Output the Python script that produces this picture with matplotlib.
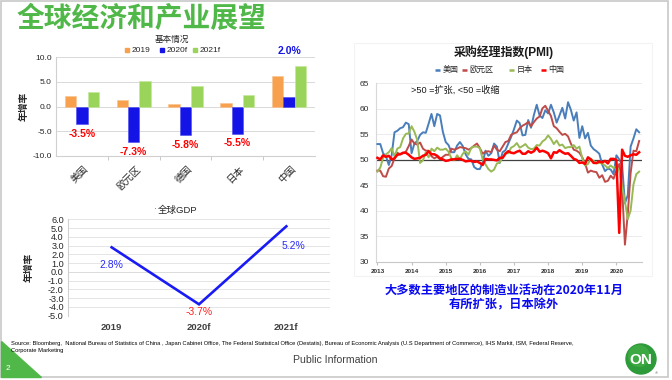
import matplotlib
matplotlib.use('Agg')
import matplotlib.pyplot as plt
import numpy as np
from matplotlib.patches import Rectangle, Polygon, Circle

plt.rcParams['font.family'] = ['Liberation Sans', 'Noto Sans CJK SC', 'DejaVu Sans']

# ---------------- data ----------------
regions = ['美国', '欧元区', '德国', '日本', '中国']
bar_series = ['2019', '2020f', '2021f']
gdp_2019 = [2.2, 1.3, 0.6, 0.7, 6.1]
gdp_2020f = [-3.5, -7.3, -5.8, -5.5, 2.0]
gdp_2021f = [3.0, 5.2, 4.2, 2.3, 8.2]

world_years = ['2019', '2020f', '2021f']
world_gdp = [2.8, -3.7, 5.2]

pmi_years = ['2013', '2014', '2015', '2016', '2017', '2018', '2019', '2020']
pmi_names = ['美国', '欧元区', '日本', '中国']
pmi_us = [53.1, 53.1, 51.3, 50.7, 49.0, 50.9, 55.4, 55.7, 56.2, 56.4, 57.3, 57.0,
          51.3, 53.2, 53.7, 54.9, 55.4, 55.3, 57.1, 59.0, 56.6, 59.0, 58.7, 55.5,
          53.5, 52.9, 51.5, 51.5, 52.8, 53.5, 52.7, 51.1, 50.2, 50.1, 48.6, 48.2,
          48.2, 49.5, 51.8, 50.8, 51.3, 53.2, 52.6, 49.4, 51.5, 51.9, 53.2, 54.5,
          56.0, 57.7, 57.2, 54.8, 54.9, 57.8, 56.3, 58.8, 60.8, 58.7, 58.2, 59.7,
          59.1, 60.8, 59.3, 57.3, 58.7, 60.2, 58.1, 61.3, 59.8, 57.7, 59.3, 54.3,
          56.6, 54.2, 55.3, 52.8, 52.1, 51.7, 51.2, 49.1, 47.8, 48.3, 48.1, 47.2,
          50.9, 50.1, 49.1, 41.5, 43.1, 52.6, 54.2, 56.0, 55.4]
pmi_ez = [47.9, 47.9, 46.8, 46.7, 48.3, 48.8, 50.3, 51.4, 51.1, 51.3, 51.6, 52.7,
          54.0, 53.2, 53.0, 53.4, 52.2, 51.8, 51.8, 50.7, 50.3, 50.6, 50.1, 50.6,
          51.0, 51.0, 52.2, 52.0, 52.2, 52.5, 52.4, 52.3, 52.0, 52.3, 52.8, 53.2,
          52.3, 51.2, 51.6, 51.7, 51.5, 52.8, 52.0, 51.7, 52.6, 53.5, 53.7, 54.9,
          55.2, 55.4, 56.2, 56.7, 57.0, 57.4, 56.6, 57.4, 58.1, 58.5, 60.1, 60.6,
          59.6, 58.6, 56.6, 56.2, 55.5, 54.9, 55.1, 54.6, 53.2, 52.0, 51.8, 51.4,
          50.5, 49.3, 47.5, 47.9, 47.7, 47.6, 46.5, 47.0, 45.7, 45.9, 46.9, 46.3,
          47.9, 49.2, 44.5, 33.4, 39.4, 47.4, 51.8, 51.7, 53.7]
pmi_jp = [47.7, 48.5, 50.4, 51.1, 51.5, 52.3, 50.7, 52.2, 52.5, 54.2, 55.1, 55.2,
          56.6, 55.5, 53.9, 49.4, 49.9, 51.5, 50.5, 52.2, 51.7, 52.4, 52.0, 52.0,
          52.2, 51.6, 50.3, 49.9, 50.9, 50.1, 51.2, 51.7, 51.0, 52.4, 52.6, 52.6,
          52.3, 50.1, 49.1, 48.2, 47.7, 48.1, 49.3, 49.5, 50.4, 51.4, 51.3, 52.4,
          52.7, 53.3, 52.4, 52.7, 53.1, 52.4, 52.1, 52.2, 52.9, 52.8, 53.6, 54.0,
          54.8, 54.1, 53.1, 53.8, 52.8, 53.0, 52.3, 52.5, 52.5, 52.9, 52.2, 52.6,
          50.3, 48.9, 49.2, 50.2, 49.8, 49.3, 49.4, 49.3, 48.9, 48.4, 48.9, 48.4,
          48.8, 47.8, 44.8, 41.9, 38.4, 40.1, 45.2, 47.2, 47.7]
pmi_cn = [50.4, 50.1, 50.9, 50.6, 50.8, 50.1, 50.3, 51.0, 51.1, 51.4, 51.4, 51.0,
          50.5, 50.2, 50.3, 50.4, 50.8, 51.0, 51.7, 51.1, 51.1, 50.8, 50.3, 50.1,
          49.8, 49.9, 50.1, 50.1, 50.2, 50.2, 50.0, 49.7, 49.8, 49.8, 49.6, 49.7,
          49.4, 49.0, 50.2, 50.1, 50.1, 50.0, 49.9, 50.4, 50.4, 51.2, 51.7, 51.4,
          51.3, 51.6, 51.8, 51.2, 51.2, 51.7, 51.4, 51.7, 52.4, 51.6, 51.8, 51.6,
          51.3, 50.3, 51.5, 51.4, 51.9, 51.5, 51.2, 51.3, 50.8, 50.2, 50.0, 49.4,
          49.5, 49.2, 50.5, 50.1, 49.4, 49.4, 49.7, 49.5, 49.8, 49.3, 50.2, 50.2,
          50.0, 35.7, 52.0, 50.8, 50.6, 50.9, 51.1, 51.0, 51.5]

# ---------------- figure ----------------
W, H = 672, 380
fig = plt.figure(figsize=(6.72, 3.8), dpi=100)
fig.patch.set_facecolor('white')

# overlay axes in pixel coordinates (for slide decoration)
ov = fig.add_axes([0, 0, 1, 1], zorder=0)
ov.set_xlim(0, W)
ov.set_ylim(H, 0)
ov.axis('off')
ov.patch.set_alpha(0)


def ax_px(x0, y0, x1, y1):
    a = fig.add_axes([x0 / W, 1 - y1 / H, (x1 - x0) / W, (y1 - y0) / H], zorder=2)
    a.patch.set_alpha(0)
    return a


GREEN = '#50B848'
TICKC = '#262626'

# slide border
ov.add_patch(Rectangle((1, 1), 667, 376, fill=False, edgecolor='#C8C8C8', lw=1.2))

# main title
ov.text(17, 18.5, '全球经济和产业展望', fontsize=20, fontweight='bold', color=GREEN,
        family=['Noto Sans CJK SC'], ha='left', va='center')

# ---------------- bar chart ----------------
ax1 = ax_px(56, 57.3, 315, 155.7)
x = np.arange(len(regions))
w = 0.22
c_or, c_bl, c_gr = '#F7A04E', '#1414E6', '#9BD45A'
ax1.bar(x - w, gdp_2019, w, color=c_or, edgecolor='#F9C38E', lw=0.4, zorder=3)
ax1.bar(x, gdp_2020f, w, color=c_bl, edgecolor='#4A4AF0', lw=0.4, zorder=3)
ax1.bar(x + w, gdp_2021f, w, color=c_gr, edgecolor='#C4E89A', lw=0.4, zorder=3)
ax1.set_xlim(-0.5, len(regions) - 0.5)
ax1.set_ylim(-10, 10)
yt = [-10, -5, 0, 5, 10]
ax1.set_yticks(yt)
ax1.set_yticklabels([f'{v:.1f}' for v in yt], fontsize=6, color=TICKC)
ax1.yaxis.grid(True, color='#D9D9D9', lw=0.7, zorder=0)
ax1.tick_params(axis='y', length=0, pad=3)
for s in ['top', 'right']:
    ax1.spines[s].set_visible(False)
ax1.spines['left'].set_color('#D0D0D0')
ax1.spines['bottom'].set_color('#D0D0D0')
ax1.set_xticks(x)
ax1.set_xticklabels([])
ax1.tick_params(axis='x', length=0)
ax1.set_xticks(np.arange(len(regions) - 1) + 0.5, minor=True)
ax1.tick_params(axis='x', which='minor', length=3, color='#C0C0C0')
for i, r in enumerate(regions):
    ax1.annotate(r, xy=(i, 0), xycoords=ax1.get_xaxis_transform(), xytext=(1, -6),
                 textcoords='offset points', rotation=45, ha='right', va='top',
                 rotation_mode='anchor', fontsize=7, color=TICKC)
for i, v in enumerate(gdp_2020f):
    if v < 0:
        ax1.text(i, v - 2.0, f'{v:.1f}%', color='#FF0000', fontsize=7.5, fontweight='bold',
                 ha='center', va='center', zorder=4)
    else:
        ax1.text(i, 11.3, f'{v:.1f}%', color='#1414E6', fontsize=7.5, fontweight='bold',
                 ha='center', va='center', clip_on=False, zorder=4)
ax1.set_ylabel('年增率', fontsize=7, fontweight='bold', color=TICKC)
ax1.yaxis.set_label_coords(-0.104, 0.5)

ov.text(172, 39, '基本情况', fontsize=6.2, ha='center', va='center', color=TICKC)
leg_items = [(125, c_or, bar_series[0]), (160, c_bl, bar_series[1]), (193, c_gr, bar_series[2])]
for lx, col, lab in leg_items:
    ov.add_patch(Rectangle((lx, 48), 4, 4, color=col))
    ov.text(lx + 6.5, 50.2, lab, fontsize=6, va='center', ha='left', color=TICKC)

# ---------------- world GDP line ----------------
ax2 = ax_px(68, 219.3, 330, 315.7)
xi = np.arange(len(world_years))
ax2.plot(xi, world_gdp, color='#1A1AF5', lw=1.9, zorder=3, solid_joinstyle='miter')
ax2.set_xlim(-0.5, len(world_years) - 0.5)
ax2.set_ylim(-5, 6)
yt2 = list(range(-5, 7))
ax2.set_yticks(yt2)
ax2.set_yticklabels([f'{v:.1f}' for v in yt2], fontsize=6.6, color=TICKC)
ax2.yaxis.grid(True, color='#E0E0E0', lw=0.6, zorder=0)
ax2.set_xticks(xi)
ax2.set_xticklabels(world_years, fontsize=6.8, color='#404040', fontweight='bold')
ax2.tick_params(axis='both', length=0)
ax2.tick_params(axis='x', pad=5)
ax2.tick_params(axis='y', pad=3)
for s in ['top', 'right', 'bottom']:
    ax2.spines[s].set_visible(False)
ax2.spines['left'].set_color('#D0D0D0')
ax2.axhline(0, color='#C8C8C8', lw=0.7, zorder=1)
gdp_lbl_off = [(0.0, -2.0), (0.0, -0.9), (0.08, -2.3)]
for i, v in enumerate(world_gdp):
    dx, dy = gdp_lbl_off[i]
    col = '#FF2020' if v < 0 else '#2A2AF5'
    ax2.text(i + dx, v + dy, f'{v:.1f}%', color=col, fontsize=7.5, ha='center', va='center')
ax2.set_ylabel('年增率', fontsize=7, fontweight='bold', color=TICKC)
ax2.yaxis.set_label_coords(-0.13, 0.5)
ov.text(155, 210, '·', fontsize=6, ha='center', va='center', color='#4040E0')
ov.text(178, 210.5, '全球GDP', fontsize=6.8, ha='center', va='center', color=TICKC)

# ---------------- PMI chart ----------------
ov.add_patch(Rectangle((354, 43), 298, 233, fill=False, edgecolor='#F3F3F3', lw=0.8))
ax3 = ax_px(376, 83.3, 642, 262)
m = np.arange(len(pmi_us))
pmi_cols = ['#4A7EBB', '#BE4B48', '#98B954', '#FF0000']
pmi_lw = [1.4, 1.4, 1.4, 1.8]
ax3.axhline(50, color='#404040', lw=0.9, zorder=2)
for vals, col, lw in zip([pmi_us, pmi_ez, pmi_jp, pmi_cn], pmi_cols, pmi_lw):
    ax3.plot(m, vals, color=col, lw=lw, zorder=3)
ax3.set_xlim(-0.5, 93)
ax3.set_ylim(30, 65)
ax3.set_yticks(range(30, 66, 5))
ax3.set_yticklabels([str(v) for v in range(30, 66, 5)], fontsize=6, color='#303030')
ax3.yaxis.grid(True, color='#E8E8E8', lw=0.6, zorder=0)
ax3.set_xticks(np.arange(len(pmi_years)) * 12)
ax3.set_xticklabels(pmi_years, fontsize=4.6, fontweight='bold', color='#303030')
ax3.tick_params(axis='y', length=0, pad=5)
ax3.tick_params(axis='x', length=2, color='#C0C0C0', pad=3)
for s in ['top', 'right']:
    ax3.spines[s].set_visible(False)
ax3.spines['left'].set_color('#D8D8D8')
ax3.spines['bottom'].set_color('#C8C8C8')

ov.text(504, 52.5, '采购经理指数(PMI)', fontsize=8.6, fontweight='bold', ha='center',
        va='center', color='#1A1A1A')
pmi_leg_x = [435, 462, 509, 541]
for lx, col, lab in zip(pmi_leg_x, pmi_cols, pmi_names):
    ov.plot([lx, lx + 5], [69.5, 69.5], color=col, lw=1.8, solid_capstyle='butt')
    ov.text(lx + 7.5, 69.8, lab, fontsize=5.8, ha='left', va='center', color='#262626')
ov.text(411, 90, '>50 =扩张, <50 =收缩', fontsize=6.6, ha='left', va='center', color='#1A1A1A')

ov.text(504, 290, '大多数主要地区的制造业活动在2020年11月', fontsize=8.8, fontweight='bold',
        color='#0A0AF0', ha='center', va='center', family=['Noto Sans CJK SC'])
ov.text(504, 305, '有所扩张，日本除外', fontsize=8.8, fontweight='bold',
        color='#0A0AF0', ha='center', va='center', family=['Noto Sans CJK SC'])

# ---------------- footer ----------------
ov.add_patch(Polygon([(1, 341), (1, 377), (41, 377)], closed=True, color=GREEN))
ov.text(8, 369, '2', fontsize=6, color='white', ha='center', va='center')
src1 = ov.text(11, 343.5, 'Source: Bloomberg,  National Bureau of Statistics of China , Japan Cabinet Office, '
               'The Federal Statistical Office (Destatis), Bureau of Economic Analysis (U.S Department of Commerce), '
               'IHS Markit, ISM, Federal Reserve,', fontsize=4.2, ha='left', va='center', color='black')
src2 = ov.text(11, 350.5, 'Corporate Marketing', fontsize=4.2, ha='left', va='center', color='black')
fig.canvas.draw()
bb = src1.get_window_extent()
scale = 572.0 / bb.width
src1.set_fontsize(4.2 * scale)
src2.set_fontsize(4.2 * scale)

ov.text(335, 360, 'Public Information', fontsize=7.6, ha='center', va='center', color='#404040')

ov.add_patch(Circle((641, 359), 15, color='#2E9B3A', zorder=3))
ov.add_patch(Circle((639, 356), 11, color='#4CB84A', alpha=0.5, zorder=3, lw=0))
ov.text(641, 359.5, 'ON', fontsize=11, fontweight='bold', color='white', ha='center',
        va='center', zorder=4)
ov.text(656, 373, '®', fontsize=3, color='#606060', ha='center', va='center')

fig.savefig('out.png', dpi=100, facecolor='white')
